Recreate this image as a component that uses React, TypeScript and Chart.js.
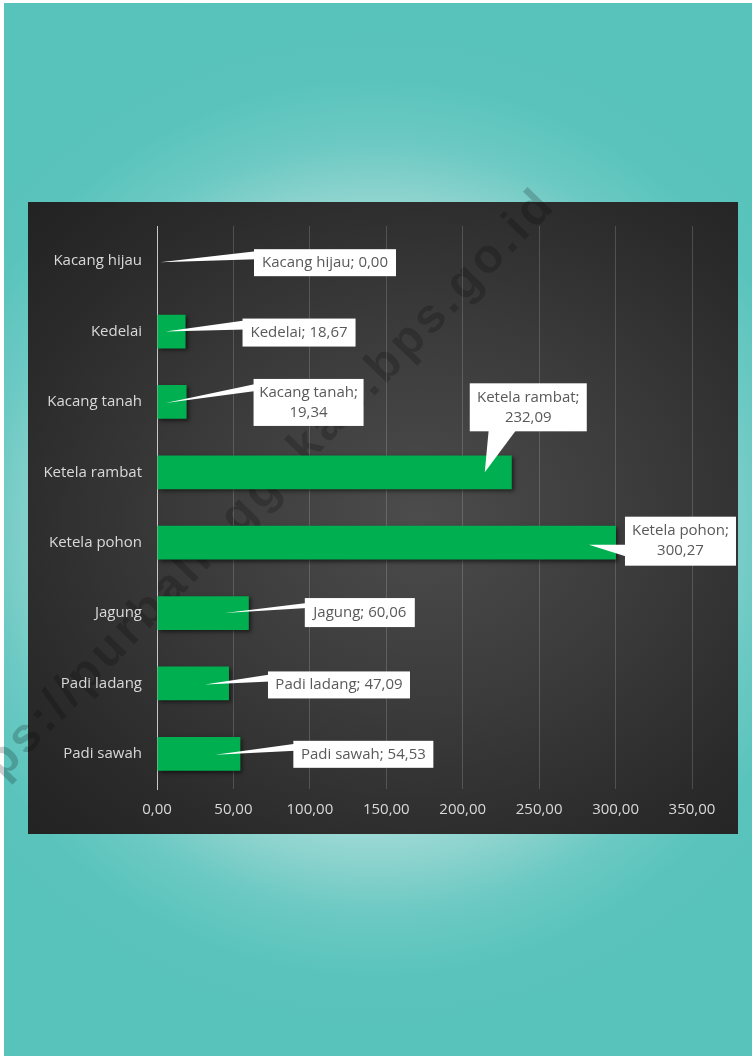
import React, { useEffect, useRef } from "react";
import { Chart, registerables } from "chart.js";

Chart.register(...registerables);

const categories = [
  "Kacang hijau",
  "Kedelai",
  "Kacang tanah",
  "Ketela rambat",
  "Ketela pohon",
  "Jagung",
  "Padi ladang",
  "Padi sawah",
];
const values = [0.0, 18.67, 19.34, 232.09, 300.27, 60.06, 47.09, 54.53];
const xTicks = [0, 50, 100, 150, 200, 250, 300, 350];
const twoLineLabels = ["Kacang tanah", "Ketela rambat", "Ketela pohon"];

// Callout box layout, relative to each bar's end point (style only)
const calloutLayout = [
  { dx: 97, dy: -12, w: 142, h: 27, tipDx: 3, tipDy: 1, side: "left", b1: 2, b2: 10 },
  { dx: 57, dy: -13, w: 113, h: 28, tipDx: -20, tipDy: 0, side: "left", b1: 2, b2: 11 },
  { dx: 67, dy: -23, w: 110, h: 47, tipDx: -21, tipDy: 1, side: "left", b1: 5, b2: 12 },
  { dx: -42, dy: -89, w: 117, h: 48, tipDx: -27, tipDy: 0, side: "bottom", b1: 19, b2: 47 },
  { dx: 9, dy: -26, w: 111, h: 49, tipDx: -27, tipDy: 2, side: "left", b1: 28, b2: 40 },
  { dx: 56, dy: -15, w: 110, h: 29, tipDx: -24, tipDy: 0, side: "left", b1: 5, b2: 10 },
  { dx: 39, dy: -12, w: 142, h: 27, tipDx: -24, tipDy: 1, side: "left", b1: 3, b2: 10 },
  { dx: 53, dy: -13, w: 140, h: 27, tipDx: -25, tipDy: 1, side: "left", b1: 3, b2: 10 },
];

const FONT = "'Open Sans', 'DejaVu Sans', sans-serif";
const fmt = (v: number) => v.toFixed(2).replace(".", ",");

const barShadow = {
  id: "barShadow",
  beforeDatasetDraw(chart: any) {
    const ctx = chart.ctx;
    ctx.save();
    ctx.shadowColor = "rgba(0,0,0,0.55)";
    ctx.shadowBlur = 4;
    ctx.shadowOffsetX = 2;
    ctx.shadowOffsetY = 2;
  },
  afterDatasetDraw(chart: any) {
    chart.ctx.restore();
  },
};

const callouts = {
  id: "callouts",
  afterDatasetsDraw(chart: any) {
    const ctx = chart.ctx;
    const meta = chart.getDatasetMeta(0);
    ctx.save();
    meta.data.forEach((el: any, i: number) => {
      const L = calloutLayout[i];
      const ex = el.x;
      const cy = el.y;
      const bx = ex + L.dx;
      const by = cy + L.dy;
      const tx = ex + L.tipDx;
      const ty = cy + L.tipDy;
      ctx.fillStyle = "#ffffff";
      ctx.beginPath();
      ctx.moveTo(tx, ty);
      if (L.side === "left") {
        ctx.lineTo(bx + 2, by + L.b1);
        ctx.lineTo(bx + 2, by + L.b2);
      } else {
        ctx.lineTo(bx + L.b1, by + L.h - 2);
        ctx.lineTo(bx + L.b2, by + L.h - 2);
      }
      ctx.closePath();
      ctx.fill();
      ctx.fillRect(bx, by, L.w, L.h);

      const cat = categories[i];
      const lines = twoLineLabels.includes(cat)
        ? [cat + ";", fmt(values[i])]
        : [cat + "; " + fmt(values[i])];
      ctx.fillStyle = "#595959";
      ctx.font = "15px " + FONT;
      ctx.textAlign = "center";
      ctx.textBaseline = "middle";
      const cx = bx + L.w / 2;
      if (lines.length === 1) {
        ctx.fillText(lines[0], cx, by + L.h / 2);
      } else {
        ctx.fillText(lines[0], cx, by + L.h / 2 - 10);
        ctx.fillText(lines[1], cx, by + L.h / 2 + 10);
      }
    });
    ctx.restore();
  },
};

function BarChart() {
  const ref = useRef<HTMLCanvasElement | null>(null);
  useEffect(() => {
    if (!ref.current) return;
    const chart = new Chart(ref.current, {
      type: "bar",
      data: {
        labels: categories,
        datasets: [
          {
            data: values,
            backgroundColor: "#00b050",
            borderWidth: 0,
            categoryPercentage: 1,
            barPercentage: 0.48,
          },
        ],
      },
      options: {
        indexAxis: "y",
        animation: false,
        responsive: false,
        maintainAspectRatio: false,
        layout: { padding: { top: 19, right: 46, left: 0, bottom: 0 } },
        plugins: {
          legend: { display: false },
          tooltip: { enabled: false },
          title: { display: false },
        },
        scales: {
          x: {
            min: 0,
            max: 350,
            afterBuildTicks: (scale: any) => {
              scale.ticks = xTicks.map((v) => ({ value: v }));
            },
            afterFit: (scale: any) => {
              scale.height = 45;
            },
            ticks: {
              color: "#d9d9d9",
              font: { family: FONT, size: 15 },
              padding: 12,
              maxRotation: 0,
              callback: (v: any) => fmt(Number(v)),
            },
            grid: {
              drawTicks: false,
              color: (c: any) =>
                c.tick && c.tick.value === 0 ? "rgba(0,0,0,0)" : "rgba(255,255,255,0.17)",
              lineWidth: 1,
            },
            border: { display: false },
          },
          y: {
            afterFit: (scale: any) => {
              scale.width = 129;
            },
            ticks: {
              color: "#d9d9d9",
              font: { family: FONT, size: 15 },
              padding: 15,
            },
            grid: { display: false, drawTicks: false },
            border: { display: true, color: "#c8c8c8", width: 1 },
          },
        },
      },
      plugins: [barShadow, callouts],
    } as any);
    return () => chart.destroy();
  }, []);
  return <canvas ref={ref} width={710} height={632} style={{ display: "block" }} />;
}

export default function App() {
  useEffect(() => {
    document.body.style.margin = "0";
  }, []);
  return (
    <div
      style={{
        position: "relative",
        width: 752,
        height: 1056,
        background: "#ffffff",
        overflow: "hidden",
        fontFamily: FONT,
      }}
    >
      <div
        style={{
          position: "absolute",
          left: 4,
          top: 3,
          right: 0,
          bottom: 0,
          background:
            "radial-gradient(circle 560px at 372px 525px, #c4eae7 0%, #a3dcd8 52%, #8ad2cd 60%, #6cc9c3 69%, #5ac4bc 80%, #57c3bb 100%)",
        }}
      />
      <div
        style={{
          position: "absolute",
          left: 28,
          top: 202,
          width: 710,
          height: 632,
          background:
            "radial-gradient(ellipse 75% 70% at 55% 50%, #4c4c4c 0%, #3a3a3a 45%, #2a2a2a 80%, #232323 100%)",
        }}
      />
      <div
        style={{
          position: "absolute",
          left: 243,
          top: 508,
          width: 0,
          height: 0,
          pointerEvents: "none",
        }}
      >
        <div
          style={{
            position: "absolute",
            left: 0,
            top: 0,
            transform: "translate(-50%, -50%) rotate(-46deg)",
            whiteSpace: "nowrap",
            font: "bold 48px 'Liberation Sans', Arial, sans-serif",
            letterSpacing: 4,
            color: "rgba(0,0,0,0.2)",
          }}
        >
          https://purbalinggakab.bps.go.id
        </div>
      </div>
      <div style={{ position: "absolute", left: 28, top: 202, width: 710, height: 632 }}>
        <BarChart />
      </div>
    </div>
  );
}
